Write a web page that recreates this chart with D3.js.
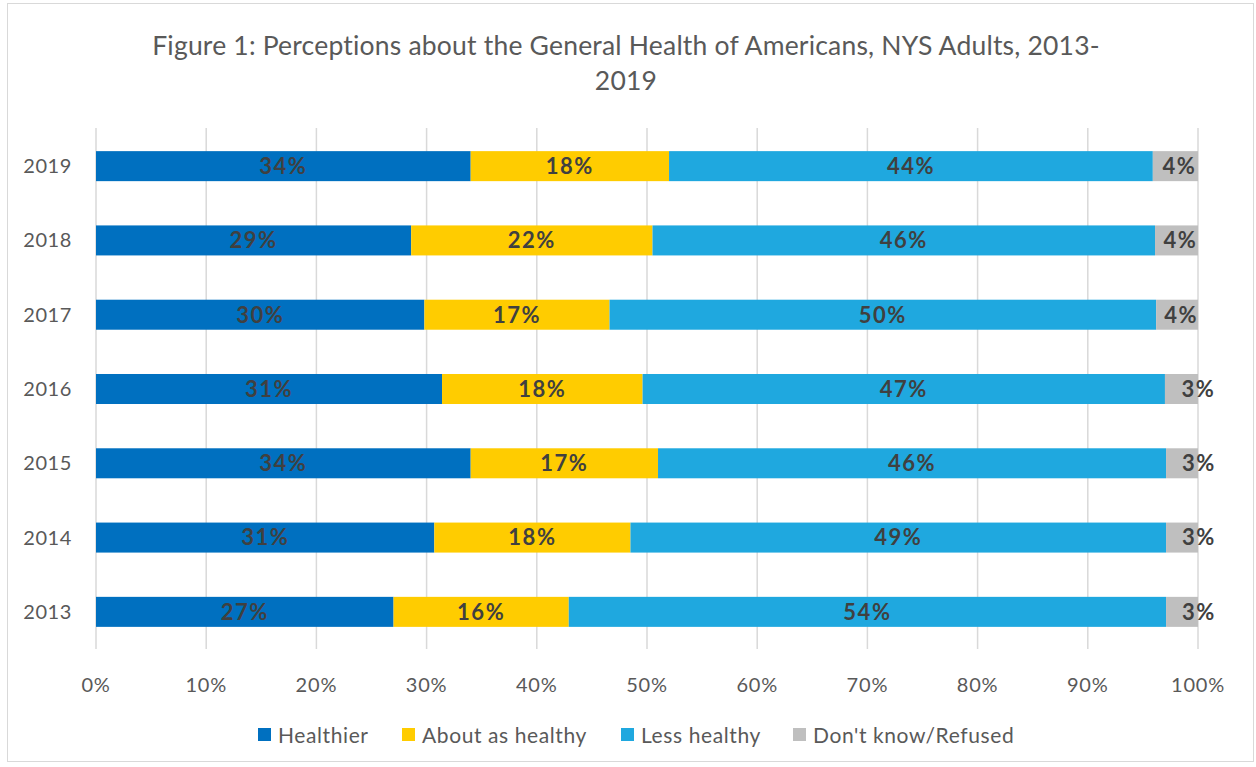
<!DOCTYPE html>
<html>
<head>
<meta charset="utf-8">
<script src="https://cdn.jsdelivr.net/npm/d3@7"></script>
<style>
  body { margin: 0; background: #fff; }
  svg text { font-family: Lato, "Open Sans", sans-serif; }
</style>
</head>
<body>
<div id="chart"></div>
<script>
const years = ["2019", "2018", "2017", "2016", "2015", "2014", "2013"];
const seriesNames = ["Healthier", "About as healthy", "Less healthy", "Don't know/Refused"];
const healthier = [34.0, 28.6, 29.8, 31.4, 34.0, 30.7, 27.0];
const aboutSame = [18.0, 21.9, 16.8, 18.2, 17.0, 17.8, 15.9];
const lessHealthy = [43.9, 45.6, 49.6, 47.4, 46.1, 48.6, 54.2];
const dontKnow = [4.1, 3.9, 3.8, 3.0, 2.9, 2.9, 2.9];
const xTicks = [0, 10, 20, 30, 40, 50, 60, 70, 80, 90, 100];
const colors = ["#0070C0", "#FFCC00", "#1FA8DF", "#BFBFBF"];

const width = 1256, height = 767;
const svg = d3.select("#chart").append("svg")
    .attr("width", width)
    .attr("height", height);

// chart border
svg.append("rect")
    .attr("x", 7.5).attr("y", 3.5)
    .attr("width", 1246).attr("height", 758)
    .attr("fill", "none")
    .attr("stroke", "#D9D9D9");

const titleLines = ["Figure 1: Perceptions about the General Health of Americans, NYS Adults, 2013-", "2019"];
svg.append("g")
    .selectAll("text")
    .data(titleLines)
    .enter().append("text")
    .attr("x", 626)
    .attr("y", (d, i) => 55 + i * 35)
    .attr("text-anchor", "middle")
    .style("font-size", "26.5px")
    .style("letter-spacing", "0.2px")
    .style("fill", "#595959")
    .text(d => d);

const x = d3.scaleLinear().domain([0, 100]).range([96, 1198]);
const y = d3.scaleBand().domain(years).range([129, 649]).paddingInner(0.596).paddingOuter(0.298);

// gridlines
svg.append("g")
    .selectAll("line")
    .data(xTicks)
    .enter().append("line")
    .attr("x1", d => x(d)).attr("x2", d => x(d))
    .attr("y1", 128).attr("y2", 649)
    .attr("stroke", "#D9D9D9")
    .attr("stroke-width", 1.5);

// x tick labels
svg.append("g")
    .selectAll("text")
    .data(xTicks)
    .enter().append("text")
    .attr("x", d => x(d))
    .attr("y", 692)
    .attr("text-anchor", "middle")
    .style("font-size", "20px")
    .style("letter-spacing", "0.8px")
    .style("fill", "#595959")
    .text(d => d + "%");

// y labels
svg.append("g")
    .selectAll("text")
    .data(years)
    .enter().append("text")
    .attr("x", 72)
    .attr("y", d => y(d) + y.bandwidth() / 2)
    .attr("dy", "0.35em")
    .attr("text-anchor", "end")
    .style("font-size", "20px")
    .style("letter-spacing", "0.6px")
    .style("fill", "#595959")
    .text(d => d);

const rows = years.map((yr, i) => ({
    year: yr,
    values: [healthier[i], aboutSame[i], lessHealthy[i], dontKnow[i]]
}));

const segs = [];
rows.forEach(r => {
    let acc = 0;
    r.values.forEach((v, k) => {
        segs.push({ year: r.year, k: k, x0: acc, x1: acc + v, v: v });
        acc += v;
    });
});

svg.append("g")
    .selectAll("rect")
    .data(segs)
    .enter().append("rect")
    .attr("x", d => x(d.x0))
    .attr("y", d => y(d.year))
    .attr("width", d => x(d.x1) - x(d.x0))
    .attr("height", y.bandwidth())
    .attr("fill", d => colors[d.k]);

svg.append("g")
    .selectAll("text")
    .data(segs)
    .enter().append("text")
    .attr("x", d => (x(d.x0) + x(d.x1)) / 2 + (d.k === 3 ? (d.v < 3.5 ? 17 : 4) : 0))
    .attr("y", d => y(d.year) + y.bandwidth() / 2)
    .attr("dy", "0.36em")
    .attr("text-anchor", "middle")
    .style("font-size", "22px")
    .style("letter-spacing", "1.5px")
    .style("font-weight", "bold")
    .style("fill", "#404040")
    .text(d => Math.round(d.v) + "%");

// legend
const legendX = [258, 402, 621, 793];
const legend = svg.append("g")
    .selectAll("g")
    .data(seriesNames)
    .enter().append("g")
    .attr("transform", (d, i) => `translate(${legendX[i]}, 728)`);

legend.append("rect")
    .attr("width", 13).attr("height", 13)
    .attr("fill", (d, i) => colors[i]);

legend.append("text")
    .attr("x", 20)
    .attr("y", 7)
    .attr("dy", "0.36em")
    .style("font-size", "21px")
    .style("letter-spacing", "0.6px")
    .style("fill", "#595959")
    .text(d => d);
</script>
</body>
</html>
